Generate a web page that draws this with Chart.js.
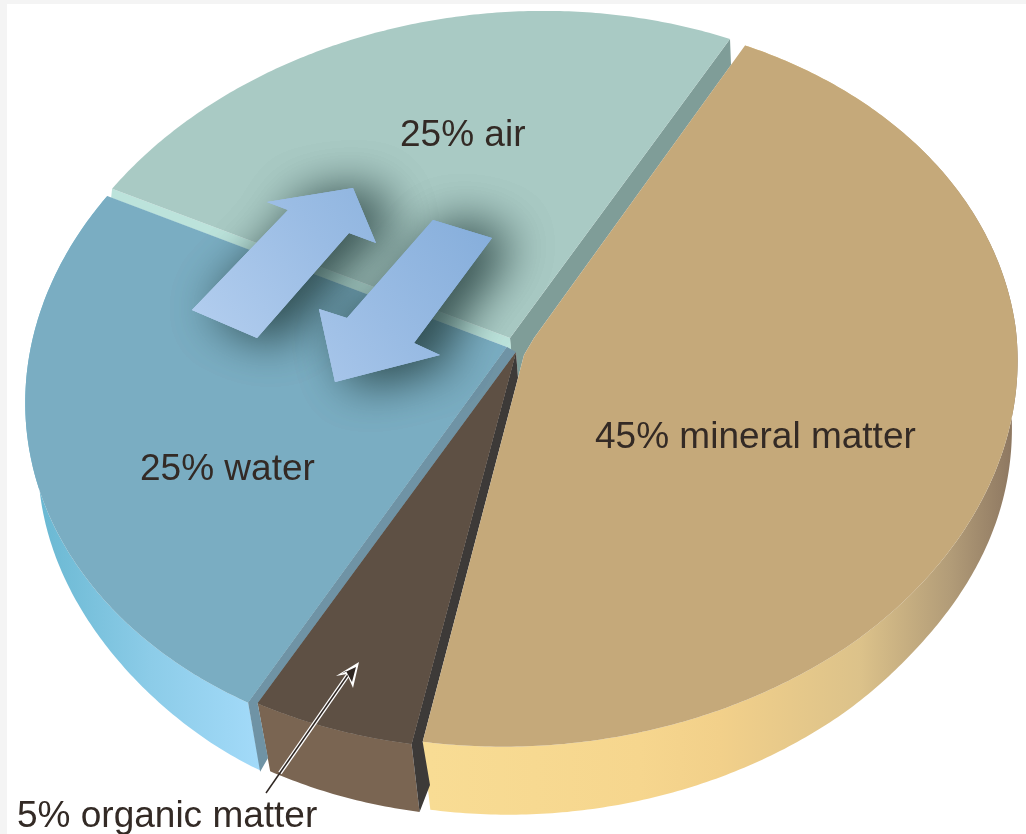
<!DOCTYPE html>
<html>
<head>
<meta charset="utf-8">
<style>
  html, body { margin: 0; padding: 0; background: #fff; }
  canvas { display: block; }
</style>
<script src="https://cdn.jsdelivr.net/npm/chart.js@4"></script>
</head>
<body>
<canvas id="chart1" width="1026" height="834"></canvas>
<script>
// Chart data
const categories = ['mineral matter', 'organic matter', 'water', 'air'];
const shares = [45, 5, 25, 25];

// Top face colours, same order as categories
const faceColors = ['#c5a97a', '#5e5044', '#7aadc2', '#a9cac4'];

// Perspective of the disc
const apex = { x: 516, y: 350 };
const tilt = -5 * Math.PI / 180;
const radiusX = 495.6;
const radiusY = 367.9;
const persp = 0.0756;

// Each slice: inner corner(s), trims at the rim (degrees), rim scale and shift,
// inA / inB pull the rim in a little near the slice's first / last corner
const sliceLook = [
  { inner: [[518, 378], [524, 355], [534, 338]], trimA: 0.2, trimB: -0.75, scale: 1, dx: 3, dy: 2, inA: 0.014, inB: 0.012 },
  { inner: [[516, 352]], trimA: 0, trimB: 0, scale: 1, dx: 0, dy: 0, inA: 0, inB: 0 },
  { inner: [[507, 347]], trimA: 1.5, trimB: 0.7, scale: 0.996, dx: 1, dy: 6, inA: 0, inB: 0 },
  { inner: [[510, 338]], trimA: 1.2, trimB: -1.5, scale: 0.987, dx: 0, dy: 0, inA: 0, inB: 0 },
];

// Side wall gradients [x, colour]
const sideStops = [
  [[430, '#f8dc94'], [640, '#f6d68e'], [720, '#f2d08a'], [860, '#dcc28a'], [950, '#b29c78'], [1015, '#8c7660']],
  [[260, '#7a6552'], [420, '#7a6552']],
  [[40, '#6ab8d2'], [150, '#8ccce8'], [265, '#a4dbfa']],
  null,
];

const DEG = Math.PI / 180;

function rimPoint(angle, scale, look) {
  const u = Math.cos(angle) * scale;
  const v = Math.sin(angle) * scale;
  const w = 1 - persp * v;
  const X = radiusX * u / w;
  const Y = radiusY * v / w;
  return {
    x: apex.x + look.dx + X * Math.cos(tilt) - Y * Math.sin(tilt),
    y: apex.y + look.dy + X * Math.sin(tilt) + Y * Math.cos(tilt),
  };
}

function smooth(t) {
  const c = Math.min(Math.max(t, 0), 1);
  return c * c * (3 - 2 * c);
}

// bottom edge of the side wall, thinner towards the far left and right
function lowerPoint(p) {
  const left = smooth((260 - p.x) / 230);
  const right = smooth((p.x - 900) / 118);
  return {
    x: p.x + 0.032 * (662 - Math.max(p.x, 270)) * (1 - 0.5 * right),
    y: p.y + 68 - 12 * left,
  };
}

function sliceRim(arc, look) {
  const a = arc.startAngle + look.trimA * DEG;
  const b = arc.endAngle + look.trimB * DEG;
  const pts = [];
  const steps = Math.ceil((b - a) / 0.01);
  for (let i = 0; i <= steps; i++) {
    const angle = a + (b - a) * i / steps;
    const pullA = look.inA * Math.max(0, 1 - (angle - a) / (60 * DEG));
    const pullB = look.inB * Math.max(0, 1 - (b - angle) / (50 * DEG));
    pts.push(rimPoint(angle, look.scale - pullA - pullB, look));
  }
  return pts;
}

function poly(ctx, pts, fill) {
  ctx.beginPath();
  pts.forEach((p, i) => (i ? ctx.lineTo(p.x, p.y) : ctx.moveTo(p.x, p.y)));
  ctx.closePath();
  ctx.fillStyle = fill;
  ctx.fill();
}

function xy(list) {
  return list.map(([x, y]) => ({ x, y }));
}

const upArrow = xy([[192, 310], [288, 210], [267, 202], [353, 188], [376, 243], [349, 233], [257, 338]]);
const downArrow = xy([[433, 220], [492, 238], [414, 343], [440, 355], [335, 382], [319, 309], [347, 318]]);

function drawFlowArrows(ctx) {
  const grad = ctx.createLinearGradient(215, 390, 470, 200);
  grad.addColorStop(0, '#b6d0f0');
  grad.addColorStop(0.55, '#9abce4');
  grad.addColorStop(1, '#86aedb');
  ctx.save();
  ctx.shadowColor = 'rgba(30,55,55,0.6)';
  ctx.shadowBlur = 50;
  ctx.shadowOffsetX = 20;
  ctx.shadowOffsetY = 2;
  for (let i = 0; i < 2; i++) {
    poly(ctx, upArrow, grad);
    poly(ctx, downArrow, grad);
  }
  ctx.restore();
  poly(ctx, upArrow, grad);
  poly(ctx, downArrow, grad);
}

function drawCallout(ctx) {
  ctx.save();
  ctx.lineCap = 'butt';
  ctx.strokeStyle = '#ffffff';
  ctx.lineWidth = 4;
  ctx.beginPath();
  ctx.moveTo(280, 773);
  ctx.lineTo(350, 672);
  ctx.stroke();
  ctx.strokeStyle = '#2e2622';
  ctx.lineWidth = 1.5;
  ctx.beginPath();
  ctx.moveTo(266, 793);
  ctx.lineTo(350, 672);
  ctx.stroke();
  poly(ctx, xy([[359, 662], [353, 688], [347, 674], [336, 676]]), '#ffffff');
  poly(ctx, xy([[356, 667], [352, 682], [346, 671], [341, 674]]), '#2e2622');
  ctx.restore();
}

const labelSpots = [
  { x: 595, y: 448 },
  { x: 17, y: 827 },
  { x: 140, y: 480 },
  { x: 400, y: 146 },
];

const pie3d = {
  id: 'pie3d',
  beforeDatasetsDraw(chart) {
    const ctx = chart.ctx;
    const arcs = chart.getDatasetMeta(0).data;

    ctx.save();
    ctx.fillStyle = '#f4f4f4';
    ctx.fillRect(0, 0, 1026, 834);
    ctx.fillStyle = '#ffffff';
    ctx.fillRect(7, 4, 1019, 830);

    const rims = arcs.map((arc, i) => sliceRim(arc, sliceLook[i]));

    // side walls
    rims.forEach((rim, i) => {
      if (!sideStops[i]) return;
      const stops = sideStops[i];
      const x0 = stops[0][0];
      const span = stops[stops.length - 1][0] - x0;
      const grad = ctx.createLinearGradient(x0, 0, x0 + span, 0);
      stops.forEach(([x, c]) => grad.addColorStop((x - x0) / span, c));
      poly(ctx, rim.concat(rim.map(lowerPoint).reverse()), grad);
    });

    // inner walls that show in the cuts
    const [mineral, organic, water, air] = rims;
    const airEnd = air[air.length - 1];
    const airStart = air[0];
    const waterStart = water[0];
    const organicStart = organic[0];
    const organicEnd = organic[organic.length - 1];
    const mineralEnd = mineral[mineral.length - 1];
    poly(ctx, xy([[510, 338], [airEnd.x, airEnd.y], [airEnd.x + 1, airEnd.y + 26], [534, 338], [524, 355], [518, 378], [516, 352], [511, 356]]), '#7f9d98');
    poly(ctx, xy([[airStart.x, airStart.y], [airStart.x - 1, airStart.y + 9], [507, 347], [507, 356], [512, 358], [510, 338]]), '#bce3db');
    poly(ctx, xy([[507, 347], [waterStart.x, waterStart.y], [waterStart.x + 12, waterStart.y + 69], [268, 758], [organicEnd.x, organicEnd.y], [516, 352], [512, 358]]), '#6f93a5');
    const low = lowerPoint(organicStart);
    poly(ctx, xy([[516, 352], [organicStart.x, organicStart.y], [low.x, low.y], [430, 785], [mineralEnd.x, mineralEnd.y], [518, 378]]), '#3d3a38');

    // top faces, from the arc elements of the pie
    [2, 3, 1, 0].forEach((i) => {
      poly(ctx, xy(sliceLook[i].inner).concat(rims[i]), arcs[i].options.backgroundColor);
    });

    // water slice sits on a wall that must stay visible over its rim corner
    poly(ctx, xy([[507, 347], [waterStart.x, waterStart.y], [organicEnd.x, organicEnd.y], [516, 352]]), '#6f93a5');
    poly(ctx, xy(sliceLook[1].inner).concat(organic), arcs[1].options.backgroundColor);

    drawFlowArrows(ctx);

    // labels
    ctx.font = '37px "Liberation Sans", Arial, sans-serif';
    ctx.fillStyle = '#332a25';
    ctx.textBaseline = 'alphabetic';
    ctx.textAlign = 'left';
    labelSpots.forEach((spot, i) => {
      ctx.fillText(shares[i] + '% ' + categories[i], spot.x, spot.y);
    });

    drawCallout(ctx);
    ctx.restore();
    return false;
  },
};

// Create the chart
const ctx1 = document.getElementById('chart1').getContext('2d');

new Chart(ctx1, {
  type: 'pie',
  data: {
    labels: categories,
    datasets: [
      {
        data: shares,
        backgroundColor: faceColors,
        borderWidth: 0,
      },
    ],
  },
  options: {
    responsive: false,
    animation: false,
    rotation: 33,
    plugins: {
      legend: { display: false },
      tooltip: { enabled: false },
    },
  },
  plugins: [pie3d],
});
</script>
</body>
</html>
